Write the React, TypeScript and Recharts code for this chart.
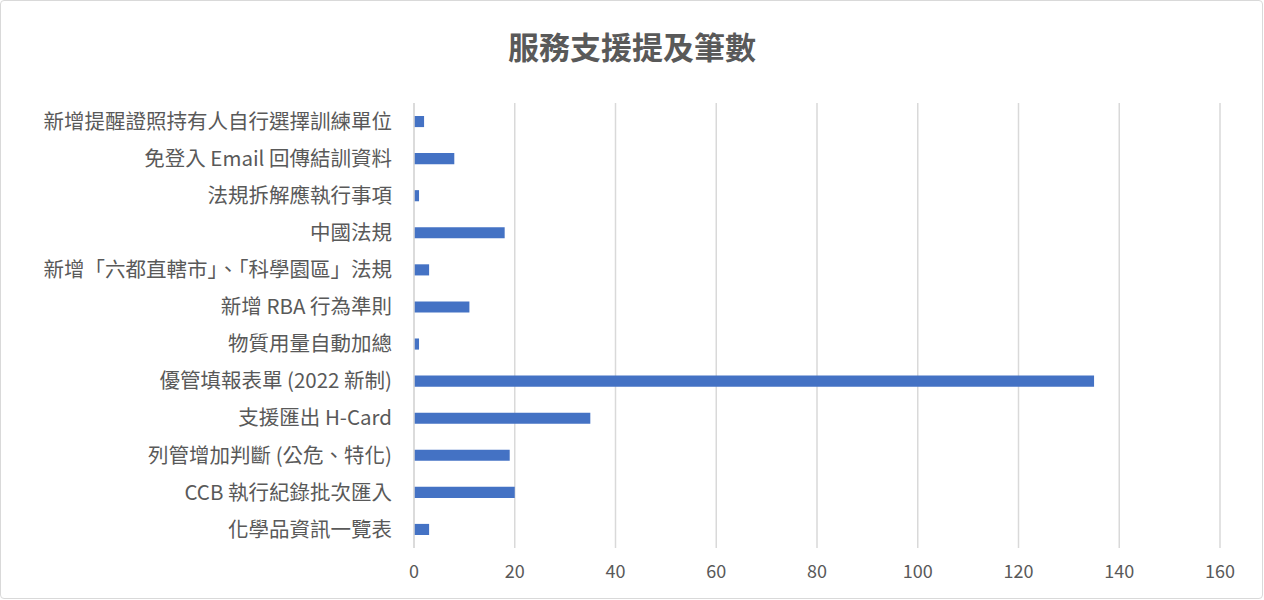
import { BarChart, Bar, XAxis, YAxis, CartesianGrid } from "recharts"

const categories = [
  "新增提醒證照持有人自行選擇訓練單位",
  "免登入 Email 回傳結訓資料",
  "法規拆解應執行事項",
  "中國法規",
  "新增「六都直轄市」、「科學園區」法規",
  "新增 RBA 行為準則",
  "物質用量自動加總",
  "優管填報表單 (2022 新制)",
  "支援匯出 H-Card",
  "列管增加判斷 (公危、特化)",
  "CCB 執行紀錄批次匯入",
  "化學品資訊一覽表",
]

const counts = [2, 8, 1, 18, 3, 11, 1, 135, 35, 19, 20, 3]

const xTicks = [0, 20, 40, 60, 80, 100, 120, 140, 160]

const chartData = categories.map((name, i) => ({ name, value: counts[i] }))

const FONT = '"Noto Sans CJK TC", "Noto Sans", sans-serif'

export default function App() {
  return (
    <div
      style={{
        position: "absolute",
        left: 0,
        top: 0,
        width: 1264,
        height: 600,
        background: "#fff",
        fontFamily: FONT,
      }}
    >
      <div
        style={{
          position: "absolute",
          left: 0,
          top: 0,
          width: 1263,
          height: 599,
          border: "1px solid #d9d9d9",
          borderRadius: 4,
          boxSizing: "border-box",
        }}
      />
      <div
        style={{
          position: "absolute",
          left: 0,
          top: 24,
          width: 1264,
          textAlign: "center",
          fontSize: 31,
          lineHeight: "44px",
          fontWeight: "bold",
          color: "#595959",
        }}
      >
        服務支援提及筆數
      </div>
      <BarChart
        width={1264}
        height={600}
        data={chartData}
        layout="vertical"
        margin={{ top: 103, right: 44, bottom: 0, left: 0 }}
        barCategoryGap="65%"
        style={{ position: "absolute", left: 0, top: 0 }}
      >
        <CartesianGrid horizontal={false} stroke="#d9d9d9" strokeWidth={1.5} />
        <XAxis
          type="number"
          domain={[0, 160]}
          ticks={xTicks}
          axisLine={false}
          tickLine={false}
          tickSize={0}
          tickMargin={17}
          height={52}
          tick={{ fill: "#595959", fontSize: 18, fontFamily: FONT }}
        />
        <YAxis
          type="category"
          dataKey="name"
          width={414}
          axisLine={{ stroke: "#d9d9d9", strokeWidth: 1.5 }}
          tickLine={false}
          tickSize={0}
          tickMargin={22}
          interval={0}
          tick={{ fill: "#595959", fontSize: 20.5, fontFamily: FONT }}
        />
        <Bar dataKey="value" fill="#4472C4" isAnimationActive={false} />
      </BarChart>
    </div>
  )
}
